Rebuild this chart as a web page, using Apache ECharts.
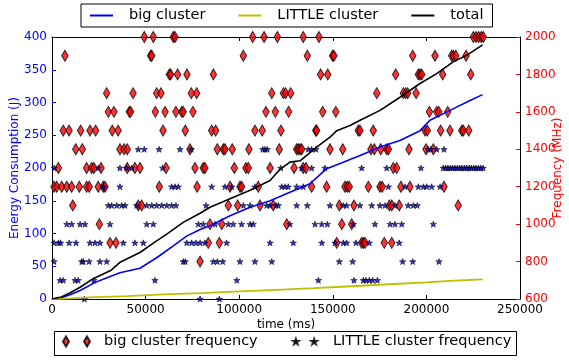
<!DOCTYPE html>
<html>
<head>
<meta charset="utf-8">
<script src="https://cdn.jsdelivr.net/npm/echarts@6/dist/echarts.min.js"></script>
<style>
  html, body { margin: 0; padding: 0; background: #fff; }
  #chart { width: 569px; height: 360px; }
</style>
</head>
<body>
<div id="chart"></div>
<script>
// energy curves, [time ms, J]
const bigEnergy = [[0,0],[5000,2],[10000,7],[15000,13],[22800,25],[29700,33],[36300,40],[47000,47],[55900,63],[64800,81],[71900,96],[79100,106],[84400,112],[95100,127],[105800,140],[116500,150],[127100,163],[137800,176],[146700,199],[153900,207],[159200,213],[164600,219],[175200,232],[185900,242],[196600,257],[201900,273],[212600,288],[223300,303],[230000,312]]
const littleEnergy = [[0,0],[10000,1],[20000,2.5],[40000,4.5],[60000,7],[80000,9],[100000,11.5],[120000,14],[140000,16.5],[160000,19.5],[180000,22.5],[200000,25.5],[215000,28],[230000,30]]
const totalEnergy = [[0,0],[5000,3],[10000,10],[15000,18],[22000,31],[31600,44],[36300,56],[47000,71],[54500,86],[61300,99],[70100,117],[79100,131],[84400,140],[95100,153],[105800,166],[116500,181],[121800,198],[127100,209],[132500,211],[141400,232],[148500,247],[152100,257],[159200,265],[164600,273],[175200,288],[185900,308],[196600,329],[205500,344],[214300,362],[221500,372],[230000,388]]

// frequency samples: one list of times (ms) per frequency level (MHz)
const bigLevels = [2000, 1900, 1800, 1700, 1600, 1500, 1400, 1300, 1200, 1100, 1000, 900, 800]
const bigTimes = [
  [49300,54100,64800,65700,107200,113300,120400,134200,142600,225100,226500,227900,229300,230400],
  [6900,52700,53300,102200,136400,149900,150600,192700,204600,213500,214400,215700,221200],
  [62700,63400,67100,72100,86200,143500,147300,183600,195700,196600,197500,208700,223700],
  [29200,43300,55900,58200,74400,77300,117400,123600,124800,127500,173500,187700,188900,190000,194500],
  [30100,33100,41300,42000,55200,60400,66200,69300,70100,75300,114300,119300,126400,144600,151600,201600,205500,206600,211400],
  [6000,9100,15300,20300,23300,32200,35300,59300,71200,85300,87400,108400,112300,122300,140900,141400,163600,164500,171600,199300,200500,207600,212600,218900,219700,222600],
  [12700,16200,36300,38500,40200,73700,88300,91500,92400,96300,105200,121400,130700,131600,132500,133400,148500,155300,170400,172200,175600,178800,179700,190700,199800,203700],
  [3400,18500,21200,22400,26200,40200,44300,47000,60900,76400,80800,81700,97400,103600,104900,116500,129300,134200,135700,182300,184100],
  [1100,2500,5200,7900,10500,14600,18500,19900,24700,27400,28300,57300,77500,95100,100400,101300,110200,138700,146700,156500,157700,158800,169000,175200,176400,186400,191200,209400],
  [11100,46100,47900,94200,99200,111100,118200,153500,161300,180200,181500,185500,217000],
  [25300,84400,90700,125400,154800,160100],
  [31000,34200,83500,89400,152100,165400,166300,167200,177500,181500],
  [79100]
]
const littleLevels = [1400, 1300, 1200, 1100, 1000, 900, 800, 700, 600]
const littleTimes = [
  [46100,49300,57200,68400,74400,112600,113800,115000,136900,138700,141000,201000,202300,205500,209400],
  [1200,24700,36300,39900,42600,59100,122200,133400,138700,145800,165400,178800,197100,209000,210300,211500,212800,214000,215300,216500,217800,219000,220300,221500,222800,224000,225300,226500,227800,229000,230300],
  [27400,36300,63900,65700,67500,85300,92400,96000,108400,122700,124500,126200,130700,134200,179700,188600,195700,198400,200200,202800,207300],
  [30100,31900,34600,37200,39000,45200,50600,53300,55900,58600,61300,63900,66200,82300,102200,105800,114700,116500,119700,120900,130700,136400,148500,155600,157400,164500,170800,175200,177900,183200,190300,193000,195100],
  [7900,10500,15000,17600,31000,50600,54100,78200,80800,87100,94200,96800,101300,105800,107500,127100,140500,144100,147100,161000,172500,180600,183200,186800,203700],
  [1100,3400,4600,9200,12800,20300,23000,25600,38100,44300,48800,72000,74600,76900,79100,81700,93300,116500,128900,144100,151200,155600,157400,162400,169500,185500],
  [1100,15900,16700,19800,25600,29200,70100,71200,86200,88300,91200,100400,108400,117400,153500,160600,187300,192700,206700],
  [4300,6000,12300,14000,22400,55000,98700,142300,161300,166300,167700,169500,171300,173800],
  [17300,79100,89400]
]

const toPoints = (levels, times) => {
  const pts = []
  levels.forEach((lv, i) => times[i].forEach(t => pts.push([t, lv])))
  return pts
}

const FONT = 'DejaVu Sans'
const STAR = 'path://M5,0L6.18,3.38L9.76,3.45L6.9,5.62L7.94,9.05L5,7L2.06,9.05L3.1,5.62L0.24,3.45L3.82,3.38Z'
const TWO_DIAMONDS = 'path://M3,0L6,5L3,10L0,5Z M24,0L27,5L24,10L21,5Z'
const TWO_STARS = 'path://M3.5,0L4.32,2.37L6.83,2.42L4.83,3.93L5.56,6.33L3.5,4.9L1.44,6.33L2.17,3.93L0.17,2.42L2.68,2.37Z M24.5,0L25.32,2.37L27.83,2.42L25.83,3.93L26.56,6.33L24.5,4.9L22.44,6.33L23.17,3.93L21.17,2.42L23.68,2.37Z'

const chart = echarts.init(document.getElementById('chart'))

const frameAxis = (extra) => Object.assign({
  type: 'value',
  splitLine: { show: false },
  axisLine: { show: true, onZero: false, lineStyle: { color: '#000', width: 1 } },
  axisTick: { show: true, inside: true, length: 4, lineStyle: { color: '#000' } },
  axisLabel: { fontFamily: FONT, fontSize: 12, color: '#000', margin: 5 },
  nameMoveOverlap: false
}, extra)

const option = {
  animation: false,
  backgroundColor: '#fff',
  textStyle: { fontFamily: FONT },
  grid: { left: 52, right: 49, top: 37, bottom: 61, containLabel: false, outerBoundsMode: 'none' },
  graphic: [{
    type: 'rect', left: 54, top: 331, z: 1,
    shape: { width: 462, height: 24 },
    style: { fill: '#fff', stroke: '#000', lineWidth: 1 }
  }],
  legend: [
    {
      data: [
        { name: 'big cluster', icon: 'rect' },
        { name: 'LITTLE cluster', icon: 'rect' },
        { name: 'total', icon: 'rect' }
      ],
      left: 81, top: 4,
      itemWidth: 23, itemHeight: 2, itemGap: 33,
      padding: [4, 9, 4, 9],
      borderColor: '#000', borderWidth: 1,
      textStyle: { fontFamily: FONT, fontSize: 14.5, color: '#000', padding: [0, 0, 0, 11] }
    },
    {
      data: [{ name: 'big cluster frequency', icon: TWO_DIAMONDS }],
      left: 62, top: 334, padding: 0, z: 5,
      itemWidth: 27, itemHeight: 10,
      textStyle: { fontFamily: FONT, fontSize: 14.5, color: '#000', padding: [0, 0, 0, 9] }
    },
    {
      data: [{ name: 'LITTLE cluster frequency', icon: TWO_STARS }],
      left: 292, top: 334, padding: 0, z: 5,
      itemWidth: 24, itemHeight: 5.5,
      textStyle: { fontFamily: FONT, fontSize: 14.5, color: '#000', padding: [0, 0, 0, 11] }
    }
  ],
  xAxis: [
    frameAxis({
      min: 0, max: 250000, interval: 50000, position: 'bottom',
      name: 'time (ms)', nameLocation: 'middle', nameGap: 20,
      nameTextStyle: { fontFamily: FONT, fontSize: 12, color: '#000' },
      axisLabel: { fontFamily: FONT, fontSize: 12, color: '#000', margin: 5, formatter: v => String(v) }
    }),
    frameAxis({
      min: 0, max: 250000, interval: 50000, position: 'top',
      axisLabel: { show: false }
    })
  ],
  yAxis: [
    frameAxis({
      min: 0, max: 400, interval: 50, position: 'left',
      name: 'Energy Consumption (J)', nameLocation: 'middle', nameGap: 31, nameRotate: 90,
      nameTextStyle: { fontFamily: FONT, fontSize: 12, color: '#0000ff' },
      axisTick: { show: true, inside: true, length: 4, lineStyle: { color: '#0000ff' } },
      axisLabel: { fontFamily: FONT, fontSize: 12, color: '#0000ff', margin: 5, formatter: v => String(v) }
    }),
    frameAxis({
      min: 600, max: 2000, interval: 200, position: 'right',
      name: 'Frequency (MHz)', nameLocation: 'middle', nameGap: 32, nameRotate: 90,
      nameTextStyle: { fontFamily: FONT, fontSize: 12, color: '#ff0000' },
      axisTick: { show: true, inside: true, length: 4, lineStyle: { color: '#ff0000' } },
      axisLabel: { fontFamily: FONT, fontSize: 12, color: '#ff0000', margin: 5, formatter: v => String(v) }
    })
  ],
  series: [
    {
      name: 'big cluster', type: 'line', xAxisIndex: 0, yAxisIndex: 0,
      data: bigEnergy, showSymbol: false, symbol: 'none', color: '#0000ff',
      lineStyle: { color: '#0000ff', width: 1.6 }
    },
    {
      name: 'LITTLE cluster', type: 'line', xAxisIndex: 0, yAxisIndex: 0,
      data: littleEnergy, showSymbol: false, symbol: 'none', color: '#bfbf00',
      lineStyle: { color: '#bfbf00', width: 1.8 }
    },
    {
      name: 'total', type: 'line', xAxisIndex: 0, yAxisIndex: 0,
      data: totalEnergy, showSymbol: false, symbol: 'none', color: '#000',
      lineStyle: { color: '#000', width: 1.6 }
    },
    {
      name: 'big cluster frequency', type: 'scatter', xAxisIndex: 0, yAxisIndex: 1,
      data: toPoints(bigLevels, bigTimes),
      symbol: 'diamond', symbolSize: [6.5, 11],
      itemStyle: { color: '#ff0000', borderColor: '#000', borderWidth: 1 }
    },
    {
      name: 'LITTLE cluster frequency', type: 'scatter', xAxisIndex: 0, yAxisIndex: 1,
      data: toPoints(littleLevels, littleTimes),
      symbol: STAR, symbolSize: [6.3, 6],
      itemStyle: { color: '#0000cc', borderColor: '#000', borderWidth: 0.7 }
    }
  ]
}

chart.setOption(option)
</script>
</body>
</html>
